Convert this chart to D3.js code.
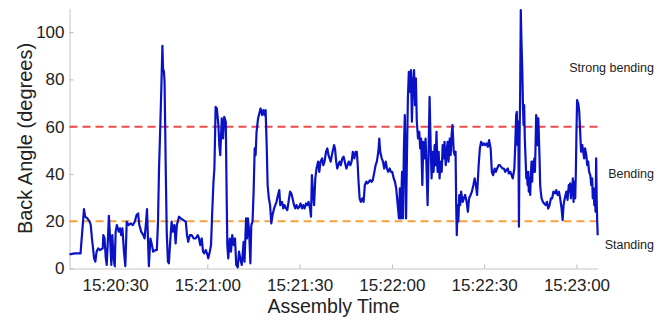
<!DOCTYPE html>
<html>
<head>
<meta charset="utf-8">
<script src="https://cdn.jsdelivr.net/npm/d3@7"></script>
<style>
  html, body { margin: 0; padding: 0; background: #fff; overflow: hidden; }
  svg { display: block; overflow: visible; }
  text { font-family: "Liberation Sans", Arial, Helvetica, sans-serif; fill: #222; }
</style>
</head>
<body>
<svg width="670" height="322"></svg>
<script>
// seconds after 15:20:00 and back angle in degrees
const seconds = [
  15.2, 16.9, 18.8, 19.0, 19.6, 19.9, 20.3, 21.0, 21.75, 22.1, 22.5, 23.2, 23.6, 24.0, 24.5, 25.1, 26.0, 26.2, 26.6, 27.0,
  27.3, 27.7, 28.0, 28.4, 28.8, 29.1, 29.55, 29.9, 30.2, 30.6, 31.2, 31.6, 32.0, 32.4, 32.9, 33.35, 33.8, 34.4, 35.1, 35.8,
  36.4, 37.0, 37.5, 37.9, 38.5, 39.2, 39.6, 40.1, 40.4, 40.7, 41.0, 41.5, 42.0, 42.4, 43.1,
  43.6, 43.97, 44.3, 44.6, 45.05, 45.4, 45.6, 45.9, 46.1, 46.5, 46.8, 47.2, 47.5, 48.0, 48.4, 48.8, 49.3, 49.7, 50.1, 50.8,
  51.4, 52.2, 53.0, 53.4, 53.8, 54.3, 54.9, 55.6, 56.2, 56.9, 57.3, 57.7, 58.2, 58.6, 59.0, 59.5, 59.9, 60.3, 60.8, 61.2,
  61.6, 62.0, 62.3, 62.5, 62.7, 63.1, 63.6, 63.9, 64.2, 64.7, 65.1, 65.5, 66.0, 66.2, 66.5, 66.8, 67.3, 67.7, 68.1, 68.6,
  69.0, 69.4, 69.9, 70.3, 70.7, 71.2, 71.8, 72.1, 72.6, 72.9, 73.2, 73.6, 74.0, 74.3, 74.7, 75.05, 75.4, 75.7, 76.0, 76.5,
  76.9, 77.3, 77.8, 78.2, 78.6, 78.95, 79.3, 79.6, 80.0, 80.4, 80.8, 81.2, 81.7, 82.1, 82.5, 82.96, 83.4, 83.7, 84.3, 84.7,
  85.1, 85.6, 86.0, 86.4, 86.9, 87.3, 87.7, 88.2, 88.6, 89.0, 89.5, 89.9, 90.3, 90.8, 91.2, 91.6, 92.1, 92.5, 92.9, 93.4,
  93.7, 94.0, 94.3, 94.7, 95.1, 95.5, 96.0, 96.4, 96.8, 97.3, 97.7, 98.1, 98.6, 99.0, 99.4,
  100.1, 100.6, 101.2, 101.5, 101.9, 102.25, 102.6, 103.0, 103.4, 103.9, 104.3, 104.7, 105.2, 105.6, 106.0, 106.5, 106.9,
  107.3, 107.8, 108.2, 108.6, 108.9, 109.1, 109.5, 109.9, 110.4, 110.8, 111.2, 111.7, 112.1, 112.5, 113.0, 113.4, 113.8,
  114.3, 114.7, 115.1, 115.6, 115.9, 116.2, 116.7, 117.1, 117.5, 118.0, 118.4, 118.8, 119.3, 119.7, 120.1, 120.6, 121.0,
  121.4, 121.9, 122.3, 122.6, 122.9, 123.3, 123.6, 123.9, 124.2, 124.6, 124.9, 125.2, 125.5, 125.9, 126.2, 126.5, 126.8,
  127.2, 127.5, 127.8, 128.1, 128.5,
  128.9, 129.2, 129.5, 129.9, 130.2, 130.6, 130.95, 131.3, 131.6, 131.9, 132.25, 132.6, 132.9, 133.2, 133.55, 133.9, 134.2,
  134.5, 134.85, 135.2, 135.5, 135.8, 136.2, 136.5, 136.8, 137.1, 137.5, 137.8, 138.1, 138.4, 138.8, 139.1, 139.4, 139.7,
  140.1, 140.4, 140.7, 140.9, 141.1, 141.35, 141.6, 141.9, 142.2, 142.5, 143.0, 143.4, 143.8, 144.3, 144.7, 145.1, 145.6,
  146.0, 146.5, 146.9, 147.3, 147.7, 148.2, 148.6, 149.0, 149.5, 149.9, 150.3, 150.8, 151.2, 151.6, 152.1, 152.5, 152.9,
  153.4, 153.8, 154.2, 154.7, 155.1, 155.5, 155.98, 156.4, 156.85,
  157.2, 157.7, 158.0, 158.5, 158.9, 159.3, 159.8, 160.1, 160.4, 160.6, 160.85, 161.1, 161.3, 161.5, 161.7, 161.9, 162.1,
  162.4, 162.6, 162.8, 163.0, 163.2, 163.45, 163.7, 163.9, 164.1, 164.3, 164.5, 164.75, 164.96, 165.2, 165.4, 165.6, 165.8,
  166.05, 166.3, 166.5, 166.7, 166.9, 167.1, 167.35, 167.6, 167.8, 168.0, 168.2, 168.4, 168.65, 169.1, 169.5, 169.95, 170.4,
  170.8, 171.25, 171.7, 172.1, 172.5, 173.0, 173.4, 173.85, 174.3, 174.7, 175.15, 175.5, 175.8, 176.2, 176.7, 177.1, 177.5,
  177.75, 177.96, 178.2, 178.4, 178.6, 178.8, 179.05, 179.3, 179.6, 179.8, 180.0, 180.2, 180.6, 180.9, 181.2, 181.5, 181.9,
  182.2, 182.5, 182.8, 183.2, 183.5, 183.8, 184.1, 184.5, 184.8, 185.1, 185.3, 185.55, 185.8, 186.0, 186.2, 186.4, 186.6,
  186.75, 186.9
];
const angles = [
  6, 6.4, 6.4, 10, 19.8, 25.1, 21.9, 21.2, 19.8, 18.4, 12.7, 4.3, 2.9, 7.1, 8.5, 7.8, 8.5, 14.1, 12.7, 4.3,
  1.5, 12.7, 22.3, 12.7, 1.5, 14.1, 4.3, 1, 15.6, 18.4, 15.6, 17, 14.1, 17, 7.1, 1, 19.8, 18.4, 19.1, 18.4,
  19.8, 22.6, 23.3, 18.4, 15.6, 14.1, 12.7, 19.8, 25.1, 12.7, 1, 12.7, 9.9, 7.1, 7.8,
  7.8, 19.8, 42.3, 55, 76.2, 94.2, 84.6, 83.2, 79, 40.9, 15.6, 2.9, 2.2, 12.7, 19.8, 15.6, 18.4, 10.6, 18.4, 21.9,
  21.2, 20.5, 19.8, 14.1, 11.3, 14.1, 14.1, 12.7, 12.7, 14.1, 12.7, 9.9, 12.7, 7.1, 6.4, 7.8, 6.4, 4.3, 7.1, 9.9,
  24, 36.7, 42.3, 55, 68.4, 67.7, 60.7, 52.2, 48, 63.5, 55, 64.2, 62.1, 39.5, 9.9, 4.3, 12.7, 7.1, 14.1, 9.9,
  12.7, 1.5, 0.5, 7.1, 4.3, 1.5, 11.3, 2.9, 21.2, 12.7, 21.2, 15.6, 2.2, 18.4, 19.8, 32.5, 50.8, 48, 57.8, 63.5,
  65.6, 67.7, 64.9, 67, 64.9, 67, 52.2, 35.3, 29.7, 26.8, 19.1, 22.6, 25.4, 26.8, 28.2, 31.1, 33.2, 26.8, 28.2, 25.4,
  26.8, 25.4, 24.7, 28.2, 32.5, 31.8, 29.7, 26.8, 25.4, 26.8, 25.4, 26.1, 27.5, 25.4, 26.8, 25.4, 27.5, 26.8, 28.2, 25.4,
  21.9, 39.5, 32.5, 26.8, 38.1, 42.3, 45.2, 40.9, 45.2, 46.6, 43.7, 45.2, 49.4, 50.8, 48,
  45.2, 48.7, 52.2, 50.8, 45.2, 42.3, 43.7, 45.2, 43.7, 46.6, 47.3, 45.2, 42.3, 43.7, 45.2, 43.7, 45.2,
  49.4, 46.6, 49.4, 49.4, 43.7, 38.1, 29.7, 28.2, 29.7, 28.2, 35.3, 36.7, 36, 36.7, 37.4, 36.7, 37.4,
  40.9, 43.7, 45.2, 49.4, 55, 49.4, 46.6, 45.2, 42.3, 45.2, 42.3, 40.9, 42.3, 40.9, 40.9, 38.1, 36.7,
  33.9, 26.8, 21.2, 33.9, 21.2, 40.9, 21.2, 50.8, 64.9, 21.2, 48, 71.9, 83.2, 74.7, 83.9, 62.1, 77.6,
  83.9, 69.1, 80.4, 62.1, 55,
  57.8, 50.8, 55, 35.3, 53.6, 46.6, 55, 40.9, 26.8, 46.6, 72.6, 52.2, 38.1, 49.4, 40.9, 52.2, 43.7,
  57.8, 40.9, 49.4, 38.1, 45.2, 40.9, 52.2, 46.6, 53.6, 43.7, 49.4, 53.6, 45.2, 55, 48, 56.4, 60.7,
  49.4, 48, 49.4, 26.8, 14.1, 26.8, 19.8, 31.1, 26.8, 32.5, 28.2, 29.7, 31.1, 28.2, 24, 29.7, 31.1,
  32.5, 35.3, 38.1, 35.3, 31.1, 43.7, 50.8, 53.6, 52.2, 52.9, 52.2, 52.9, 51.5, 54.3, 50.8, 40.9, 39.5,
  42.3, 40.9, 42.3, 43.7, 43.7, 43, 42.3, 42.3, 40.9,
  41.6, 42.3, 40.2, 40.9, 39.5, 38.1, 42.3, 52.2, 64.9, 66.3, 52.2, 62.1, 17.7, 55, 74.8, 109.3, 97.3,
  83.2, 69.1, 60.7, 69.1, 55, 46.6, 38.1, 40.9, 35.3, 40.9, 32.5, 38.1, 31.1, 40.9, 45.2, 36.7, 45.2,
  40.9, 46.6, 40.9, 52.2, 64.9, 63.5, 52.2, 63.5, 55, 46.6, 35.3, 32.5, 29.7, 28.2, 27.5, 26.8, 28.2,
  25.4, 26.8, 29.7, 29.7, 32.5, 31.8, 33.2, 31.1, 32.5, 29.7, 25.4, 20.5, 26.8, 29.7, 32.5, 29, 35.3,
  32.5, 36, 29.7, 35.3, 31.1, 38.1, 28.2, 36.7, 29.7, 40.9, 57.8, 71.2, 69.8, 66.3, 57.8, 49.4, 52.2,
  49.4, 46.6, 50.8, 48, 43.7, 45.2, 40.9, 39.5, 35.3, 38.1, 29.7, 33.9, 26.8, 31.1, 24, 46.6, 26.8,
  19.8, 14.1
];
const tickSeconds = [30, 60, 90, 120, 150, 180];
const yTicks = [0, 20, 40, 60, 80, 100];
const thresholds = [60, 20];
const thresholdColors = ["#f04a4a", "#f7a03c"];
const zoneLabels = ["Strong bending", "Bending", "Standing"];
const zoneBounds = [[110, 60], [60, 20], [20, 0]];

const svg = d3.select("svg");
const width = +svg.attr("width");
const height = +svg.attr("height");
const margin = { top: 8.5, right: 72.3, bottom: 53.5, left: 69.5 };
const innerWidth = width - margin.left - margin.right;
const innerHeight = height - margin.top - margin.bottom;
const g = svg.append("g").attr("transform", "translate(" + margin.left + "," + margin.top + ")");

const start = new Date(2000, 0, 1, 15, 20, 0);
const toDate = s => new Date(start.getTime() + s * 1000);

const xscale = d3.scaleTime().domain([toDate(15.2), toDate(186.9)]).range([0, innerWidth]);
const yscale = d3.scaleLinear().domain([0, 110]).range([innerHeight, 0]);

// axes, matlab style: light grey, ticks pointing inward
const xaxis = d3.axisBottom(xscale)
  .tickValues(tickSeconds.map(toDate))
  .tickFormat(d3.timeFormat("%H:%M:%S"))
  .tickSizeInner(-4).tickSizeOuter(0).tickPadding(10);
const yaxis = d3.axisLeft(yscale)
  .tickValues(yTicks)
  .tickSizeInner(-4).tickSizeOuter(0).tickPadding(5);

const gx = g.append("g").attr("transform", "translate(0," + innerHeight + ")").call(xaxis);
const gy = g.append("g").call(yaxis);
[gx, gy].forEach(a => {
  a.attr("font-family", null).attr("font-size", null);
  a.select(".domain").attr("stroke", "#c4c4c4");
  a.selectAll(".tick line").attr("stroke", "#b8b8b8");
  a.selectAll(".tick text").attr("fill", "#222").style("font-size", "17px");
});

// threshold lines
g.selectAll(".thr")
  .data(thresholds)
  .enter().append("line")
  .attr("class", "thr")
  .attr("x1", 0).attr("x2", innerWidth)
  .attr("y1", d => yscale(d)).attr("y2", d => yscale(d))
  .attr("stroke", (d, i) => thresholdColors[i])
  .attr("stroke-width", 2)
  .attr("stroke-dasharray", "8,5");

// back angle series
const pts = seconds.map((s, i) => ({ t: toDate(s), v: angles[i] }));
const line = d3.line().x(d => xscale(d.t)).y(d => yscale(d.v));
g.append("path")
  .datum(pts)
  .attr("fill", "none")
  .attr("stroke", "#0a12c6")
  .attr("stroke-width", 2.2)
  .attr("stroke-linejoin", "round")
  .attr("d", line);

// zone labels on the right
g.selectAll(".zone")
  .data(zoneLabels)
  .enter().append("text")
  .attr("class", "zone")
  .attr("x", 654 - margin.left)
  .attr("y", (d, i) => yscale((zoneBounds[i][0] + zoneBounds[i][1]) / 2))
  .attr("dy", "0.35em")
  .attr("text-anchor", "end")
  .style("font-size", "12.5px")
  .text(d => d);

// axis titles
svg.append("text")
  .attr("x", margin.left + innerWidth / 2)
  .attr("y", 313)
  .attr("text-anchor", "middle")
  .style("font-size", "19.5px")
  .text("Assembly Time");
svg.append("text")
  .attr("transform", "translate(32," + (margin.top + innerHeight / 2) + ") rotate(-90)")
  .attr("text-anchor", "middle")
  .style("font-size", "20px")
  .text("Back Angle (degrees)");
</script>
</body>
</html>
